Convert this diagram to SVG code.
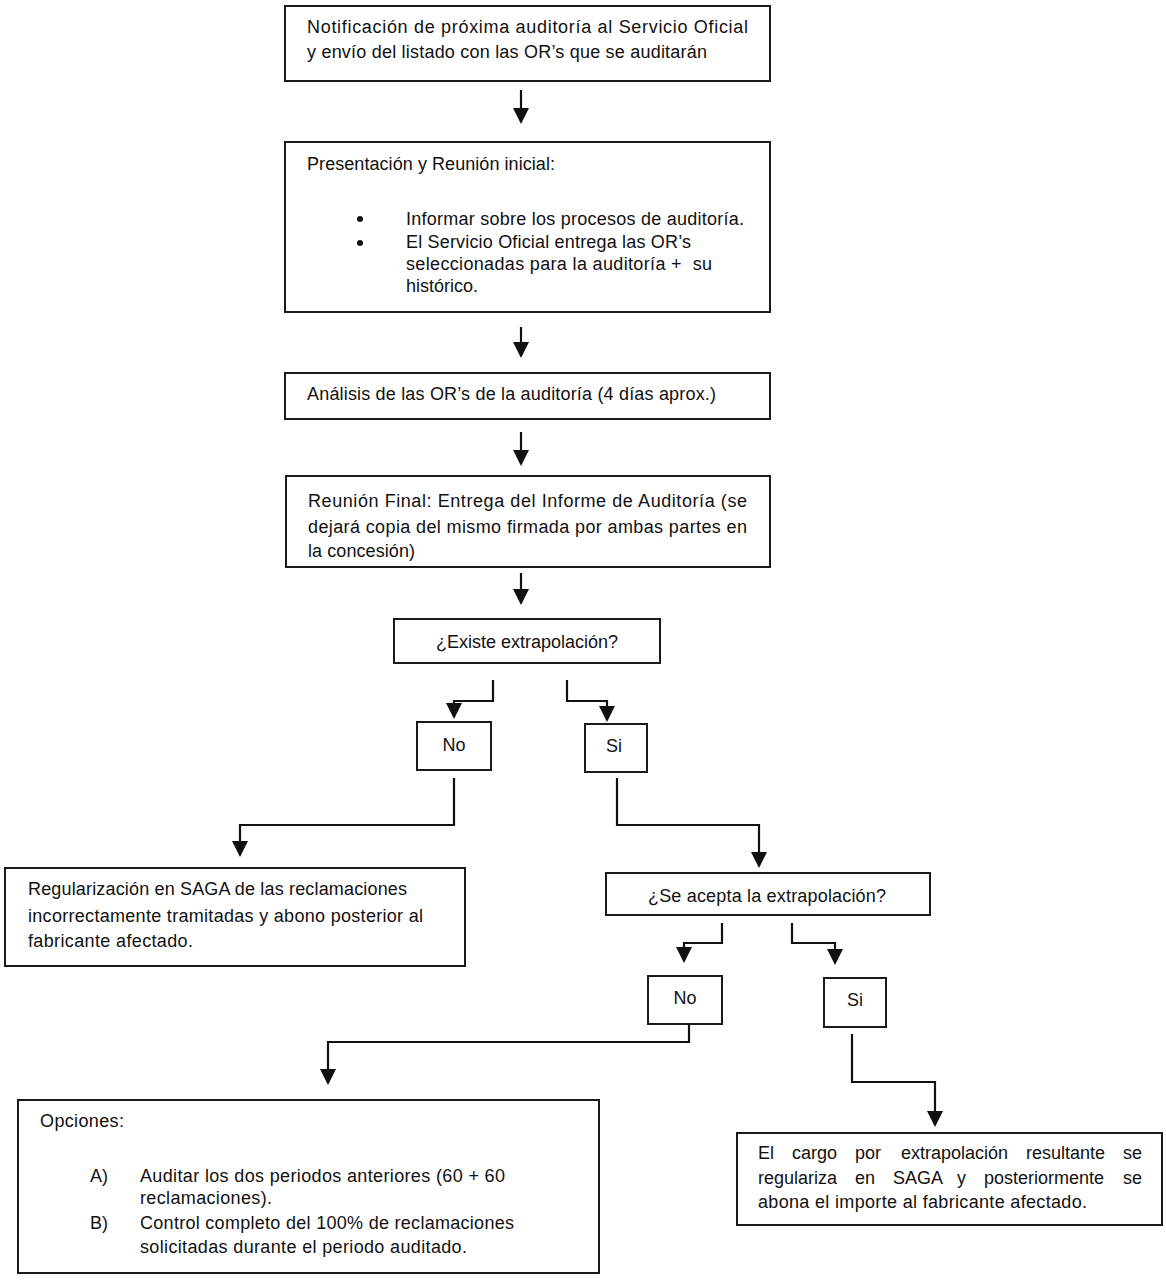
<svg xmlns="http://www.w3.org/2000/svg" width="1166" height="1280" viewBox="0 0 1166 1280">
<style>
.box{fill:#fff;stroke:#1a1a1a;stroke-width:2}
.t{font-family:"Liberation Sans",Arial,sans-serif;font-size:18px;fill:#111}
.c{text-anchor:middle}
.conn{fill:none;stroke:#111;stroke-width:2.2}
</style>
<defs>
<marker id="ah" viewBox="0 0 16 16" markerWidth="16" markerHeight="16" refX="14" refY="8" orient="auto" markerUnits="userSpaceOnUse">
<path d="M0,0 L16,8 L0,16 z" fill="#111"/>
</marker>
</defs>
<rect width="1166" height="1280" fill="#fff"/>

<g id="n1">
<rect class="box" x="285" y="6" width="485" height="75"/>
<text class="t" x="307" y="33" textLength="441">Notificación de próxima auditoría al Servicio Oficial</text>
<text class="t" x="307" y="58" textLength="400">y envío del listado con las OR’s que se auditarán</text>
</g>

<g id="n2">
<rect class="box" x="285" y="142" width="485" height="170"/>
<text class="t" x="307" y="170" textLength="248">Presentación y Reunión inicial:</text>
<circle cx="360" cy="219" r="3" fill="#111"/>
<circle cx="360" cy="243" r="3" fill="#111"/>
<text class="t" x="406" y="225" textLength="338">Informar sobre los procesos de auditoría.</text>
<text class="t" x="406" y="248" textLength="285">El Servicio Oficial entrega las OR’s</text>
<text class="t" x="406" y="270" textLength="306" xml:space="preserve">seleccionadas para la auditoría +  su</text>
<text class="t" x="406" y="292" textLength="72">histórico.</text>
</g>

<g id="n3">
<rect class="box" x="285" y="373" width="485" height="46"/>
<text class="t" x="307" y="400" textLength="409">Análisis de las OR’s de la auditoría (4 días aprox.)</text>
</g>

<g id="n4">
<rect class="box" x="286" y="476" width="484" height="91"/>
<text class="t" x="308" y="507" textLength="439">Reunión Final: Entrega del Informe de Auditoría (se</text>
<text class="t" x="308" y="533" textLength="439">dejará copia del mismo firmada por ambas partes en</text>
<text class="t" x="308" y="557" textLength="107">la concesión)</text>
</g>

<g id="n5">
<rect class="box" x="394" y="619" width="266" height="44"/>
<text class="t" x="436" y="648" textLength="182">¿Existe extrapolación?</text>
</g>

<g id="n6">
<rect class="box" x="417" y="722" width="74" height="48"/>
<text class="t c" x="454" y="751">No</text>
</g>

<g id="n7">
<rect class="box" x="585" y="724" width="62" height="48"/>
<text class="t c" x="614" y="752">Si</text>
</g>

<g id="n8">
<rect class="box" x="5" y="868" width="460" height="98"/>
<text class="t" x="28" y="895" textLength="379">Regularización en SAGA de las reclamaciones</text>
<text class="t" x="28" y="922" textLength="395">incorrectamente tramitadas y abono posterior al</text>
<text class="t" x="28" y="947" textLength="165">fabricante afectado.</text>
</g>

<g id="n9">
<rect class="box" x="606" y="873" width="324" height="42"/>
<text class="t" x="648" y="902" textLength="238">¿Se acepta la extrapolación?</text>
</g>

<g id="n10">
<rect class="box" x="648" y="976" width="74" height="48"/>
<text class="t c" x="685" y="1004">No</text>
</g>

<g id="n11">
<rect class="box" x="824" y="978" width="62" height="49"/>
<text class="t c" x="855" y="1006">Si</text>
</g>

<g id="n12">
<rect class="box" x="18" y="1100" width="581" height="173"/>
<text class="t" x="40" y="1127" textLength="84">Opciones:</text>
<text class="t" x="90" y="1182">A)</text>
<text class="t" x="140" y="1182" textLength="365">Auditar los dos periodos anteriores (60 + 60</text>
<text class="t" x="140" y="1204" textLength="132">reclamaciones).</text>
<text class="t" x="90" y="1229">B)</text>
<text class="t" x="140" y="1229" textLength="374">Control completo del 100% de reclamaciones</text>
<text class="t" x="140" y="1253" textLength="327">solicitadas durante el periodo auditado.</text>
</g>

<g id="n13">
<rect class="box" x="737" y="1133" width="425" height="92"/>
<text class="t" y="1159"><tspan x="758">El</tspan> <tspan x="792">cargo</tspan> <tspan x="855">por</tspan> <tspan x="901">extrapolación</tspan> <tspan x="1026">resultante</tspan> <tspan x="1123">se</tspan></text>
<text class="t" y="1184"><tspan x="758">regulariza</tspan> <tspan x="855">en</tspan> <tspan x="893">SAGA</tspan> <tspan x="957">y</tspan> <tspan x="984">posteriormente</tspan> <tspan x="1123">se</tspan></text>
<text class="t" x="758" y="1208" textLength="329">abona el importe al fabricante afectado.</text>
</g>

<g id="connectors">
<path class="conn" marker-end="url(#ah)" d="M521,90 V122"/>
<path class="conn" marker-end="url(#ah)" d="M521,327 V356"/>
<path class="conn" marker-end="url(#ah)" d="M521,432 V464"/>
<path class="conn" marker-end="url(#ah)" d="M521,573 V603"/>
<path class="conn" marker-end="url(#ah)" d="M493,680 V701 H454 V717"/>
<path class="conn" marker-end="url(#ah)" d="M567,680 V701 H607 V720"/>
<path class="conn" marker-end="url(#ah)" d="M454,778 V825 H240 V855"/>
<path class="conn" marker-end="url(#ah)" d="M617,778 V825 H759 V866"/>
<path class="conn" marker-end="url(#ah)" d="M722,923 V943 H684 V961"/>
<path class="conn" marker-end="url(#ah)" d="M792,923 V943 H835 V963"/>
<path class="conn" marker-end="url(#ah)" d="M689,1024 V1042 H328 V1083"/>
<path class="conn" marker-end="url(#ah)" d="M852,1034 V1082 H935 V1125"/>
</g>
</svg>
